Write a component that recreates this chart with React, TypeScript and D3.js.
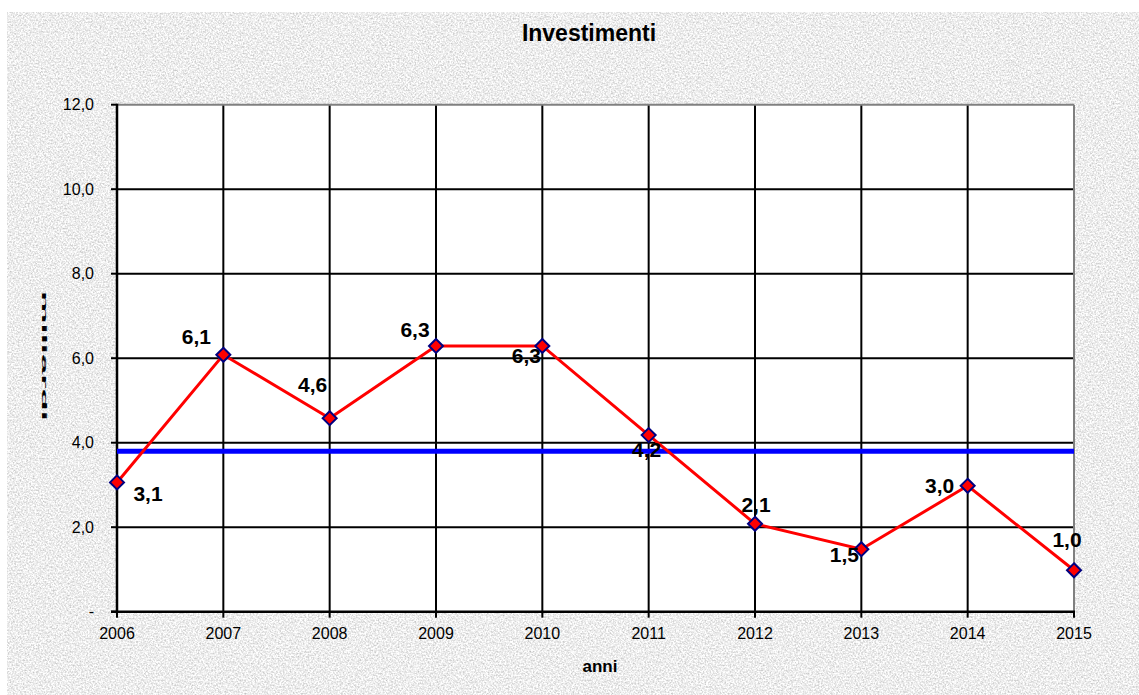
import React from 'react';
import * as d3 from 'd3';

const years = ['2006', '2007', '2008', '2009', '2010', '2011', '2012', '2013', '2014', '2015'];
const values = [3.06, 6.08, 4.58, 6.29, 6.29, 4.18, 2.08, 1.48, 2.98, 0.98];
const yTicks = [0, 2, 4, 6, 8, 10, 12];
const title = 'Investimenti';
const xTitle = 'anni';
const yTitle = 'miliardi';

// label placement offsets (dx, baseline dy) relative to each point, as in the reference
const labelOffsets: [number, number][] = [
  [31, 19], [-27, -11], [-17, -26], [-21, -9], [-16, 17],
  [-2, 22], [1, -12], [-17, 13], [-28, 7], [-7, -23],
];

const W = 1139;
const H = 695;
const left = 117;
const right = 1074;
const top = 104.7;
const bottom = 611.7;
const FONT = '"Liberation Sans", Arial, sans-serif';

const fmt = (v: number) => (v === 0 ? '-' : d3.format('.1f')(v).replace('.', ','));

export default function App() {
  const x = d3.scalePoint<string>().domain(years).range([left, right]).padding(0);
  const y = d3.scaleLinear().domain([0, 12]).range([bottom, top]);
  const avg = d3.mean(values) as number;

  const line = d3
    .line<number>()
    .x((_, i) => x(years[i]) as number)
    .y((d) => y(d));

  const diamond = (cx: number, cy: number, r: number) =>
    `M${cx},${cy - r}L${cx + r},${cy}L${cx},${cy + r}L${cx - r},${cy}Z`;

  return (
    <svg
      width={W}
      height={H}
      style={{ position: 'absolute', left: 0, top: 0, background: '#fff' }}
      fontFamily={FONT}
    >
      <defs>
        <filter id="granite" x="0" y="0" width="100%" height="100%" colorInterpolationFilters="sRGB">
          <feTurbulence type="fractalNoise" baseFrequency="0.6" numOctaves={3} seed={7} result="t" />
          <feColorMatrix
            in="t"
            type="matrix"
            values="0.42 0 0 0 0.72  0.42 0 0 0 0.72  0.42 0 0 0 0.72  0 0 0 0 1"
          />
        </filter>
      </defs>
      <rect x={7} y={12} width={W - 7} height={H - 12} fill="#e8e8e8" filter="url(#granite)" />

      {/* plot area */}
      <rect x={left} y={top} width={right - left} height={bottom - top} fill="#ffffff" />

      {/* horizontal gridlines */}
      {yTicks.filter((t) => t > 0 && t < 12).map((t) => (
        <line key={'h' + t} x1={left} x2={right} y1={y(t)} y2={y(t)} stroke="#000" strokeWidth={2} />
      ))}
      {/* vertical gridlines */}
      {years.slice(1, -1).map((yr) => (
        <line key={'v' + yr} x1={x(yr)} x2={x(yr)} y1={top} y2={bottom} stroke="#000" strokeWidth={2} />
      ))}
      {/* top and right borders */}
      <line x1={left} x2={right} y1={top} y2={top} stroke="#808080" strokeWidth={2} />
      <line x1={right} x2={right} y1={top} y2={bottom} stroke="#808080" strokeWidth={2} />

      {/* axes */}
      <line x1={left} x2={left} y1={top - 1} y2={bottom + 1} stroke="#000" strokeWidth={2.5} />
      <line x1={left - 6} x2={right + 1} y1={bottom} y2={bottom} stroke="#000" strokeWidth={2.5} />
      {yTicks.map((t) => (
        <g key={'yt' + t}>
          <line x1={left - 6} x2={left} y1={y(t)} y2={y(t)} stroke="#000" strokeWidth={2} />
          <text x={94} y={y(t) + 5.5} textAnchor="end" fontSize={16} fill="#000">
            {fmt(t)}
          </text>
        </g>
      ))}
      {years.map((yr) => (
        <g key={'xt' + yr}>
          <line x1={x(yr)} x2={x(yr)} y1={bottom} y2={bottom + 6} stroke="#000" strokeWidth={2} />
          <text x={x(yr)} y={639} textAnchor="middle" fontSize={16} fill="#000">
            {yr}
          </text>
        </g>
      ))}

      {/* average line */}
      <line x1={left} x2={right} y1={y(avg)} y2={y(avg)} stroke="#0000ff" strokeWidth={5} />

      {/* series */}
      <path d={line(values) as string} fill="none" stroke="#ff0000" strokeWidth={3} />
      {values.map((v, i) => (
        <path
          key={'m' + i}
          d={diamond(x(years[i]) as number, y(v), 7)}
          fill="#ff0000"
          stroke="#000080"
          strokeWidth={2}
        />
      ))}
      {values.map((v, i) => (
        <text
          key={'l' + i}
          x={(x(years[i]) as number) + labelOffsets[i][0]}
          y={y(v) + labelOffsets[i][1]}
          textAnchor="middle"
          fontSize={21}
          fontWeight="bold"
          fill="#000"
        >
          {fmt(v)}
        </text>
      ))}

      {/* titles */}
      <text x={589} y={41} textAnchor="middle" fontSize={23} fontWeight="bold" fill="#000">
        {title}
      </text>
      <text x={600} y={672} textAnchor="middle" fontSize={17} fontWeight="bold" fill="#000">
        {xTitle}
      </text>
      <text
        transform={`translate(42, 356) rotate(90)`}
        textAnchor="middle"
        fontSize={7}
        fontWeight="bold"
        textLength={130}
        lengthAdjust="spacingAndGlyphs"
        fill="#000"
      >
        {yTitle}
      </text>
    </svg>
  );
}
